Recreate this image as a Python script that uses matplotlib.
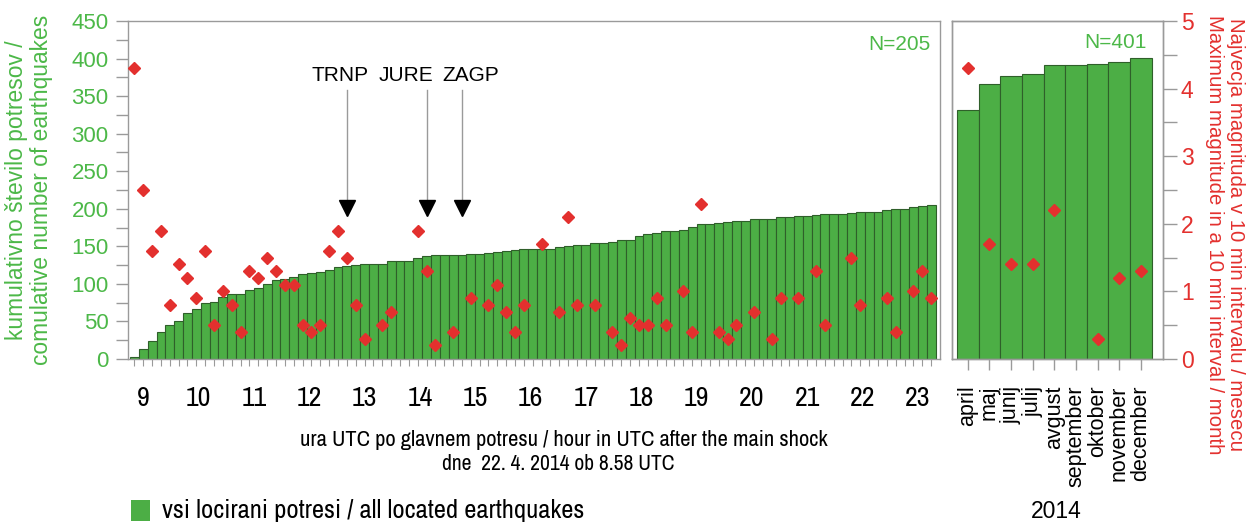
import matplotlib
matplotlib.use('Agg')
import matplotlib.pyplot as plt
import matplotlib.transforms as mtransforms
from matplotlib import font_manager
from matplotlib.patches import Rectangle
import numpy as np

nan = np.nan

# cumulative number of located earthquakes, 10 min intervals after 8.58 UTC
cum_count = [2, 13, 24, 36, 45, 50, 61, 67, 74, 76,
             83, 86, 87, 92, 95, 100, 105, 107, 109, 113,
             115, 116, 118, 122, 124, 125, 126, 126, 127, 130,
             130, 130, 135, 137, 138, 138, 139, 139, 140, 140,
             141, 142, 144, 145, 146, 146, 147, 147, 149, 151,
             152, 152, 154, 154, 156, 158, 159, 164, 166, 168,
             171, 171, 172, 176, 180, 180, 181, 182, 184, 184,
             186, 186, 187, 189, 189, 190, 190, 192, 193, 193,
             193, 195, 196, 196, 196, 199, 200, 200, 202, 204, 205]

# maximum magnitude in each 10 min interval (nan = no event)
max_mag = [4.3, 2.5, 1.6, 1.9, 0.8, 1.4, 1.2, 0.9, 1.6, 0.5,
           1.0, 0.8, 0.4, 1.3, 1.2, 1.5, 1.3, 1.1, 1.1, 0.5,
           0.4, 0.5, 1.6, 1.9, 1.5, 0.8, 0.3, nan, 0.5, 0.7,
           nan, nan, 1.9, 1.3, 0.2, nan, 0.4, nan, 0.9, nan,
           0.8, 1.1, 0.7, 0.4, 0.8, nan, 1.7, nan, 0.7, 2.1,
           0.8, nan, 0.8, nan, 0.4, 0.2, 0.6, 0.5, 0.5, 0.9,
           0.5, nan, 1.0, 0.4, 2.3, nan, 0.4, 0.3, 0.5, nan,
           0.7, nan, 0.3, 0.9, nan, 0.9, nan, 1.3, 0.5, nan,
           nan, 1.5, 0.8, nan, nan, 0.9, 0.4, nan, 1.0, 1.3, 0.9]

hours = list(range(9, 24))

# stations installed during the day (bar index)
stations = ['TRNP', 'JURE', 'ZAGP']
station_bar = [24, 33, 37]

months = ['april', 'maj', 'junij', 'julij', 'avgust', 'september',
          'oktober', 'november', 'december']
month_cum = [331, 366, 377, 380, 392, 392, 393, 395, 401]
month_mag = [4.3, 1.7, 1.4, 1.4, 2.2, nan, 0.3, 1.2, 1.3]


def narrow_font():
    # look for a condensed sans face, fall back to the regular one
    entries = font_manager.fontManager.ttflist
    for f in entries:
        if 'Narrow' in f.name:
            return {'family': f.name}
    for f in entries:
        if 'Condensed' in f.name and 'Bold' not in f.name:
            return {'family': f.name}
    for f in entries:
        if str(f.stretch) in ('condensed', 'semi-condensed') and f.weight in (400, 'normal', 'regular'):
            return {'family': f.name, 'stretch': f.stretch}
    return {'family': 'Liberation Sans'}


nfont = narrow_font()
plt.rcParams['font.family'] = ['Liberation Sans', 'DejaVu Sans']

green = '#4cae45'
edge = '#2f5f2a'
green_txt = '#4cb848'
red = '#e3302e'
gray = '#9a9a9a'

W, H = 1257, 524
fig = plt.figure(figsize=(W / 100, H / 100), dpi=100)

# ---- left panel: first day ----
ax = fig.add_axes([128 / W, (H - 359) / H, 812 / W, 338 / H])
x = np.arange(len(cum_count))
ax.bar(x, cum_count, width=1.0, color=green, edgecolor=edge, linewidth=0.8, zorder=2)
ax.set_xlim(-0.72, 91.0)
ax.set_ylim(0, 450)
ax.set_yticks(range(0, 451, 50))
ax.set_yticks(range(25, 450, 50), minor=True)
ax.tick_params(axis='y', which='both', direction='out', length=9, width=1,
               color=gray, labelcolor=green_txt, labelsize=16, pad=5)
ax.set_xticks(x)
ax.set_xticklabels([])
ax.tick_params(axis='x', direction='out', length=5, width=0.8, color=gray)
for s in ax.spines.values():
    s.set_color(gray)
    s.set_linewidth(1)

trans = mtransforms.blended_transform_factory(ax.transData, ax.transAxes)
for h in hours:
    ax.text(1.0 + 6.25 * (h - 9), -0.117, str(h), transform=trans,
            ha='center', va='center', fontsize=20, **nfont)

ax.text(0.988, 0.93, 'N=205', transform=ax.transAxes, ha='right', va='center',
        fontsize=15, color=green_txt)

# station arrows
text_dx = [-7, -21, 9]
for name, b, dx in zip(stations, station_bar, text_dx):
    ax.plot([b, b], [192, 358], color=gray, lw=1, zorder=3)
    ax.plot([b], [201], marker='v', color='black', markersize=11, zorder=4)
    ax.annotate(name, (b, 378), xytext=(dx, 0), textcoords='offset pixels',
                ha='center', va='center', fontsize=15, color='black')

ax2 = ax.twinx()
ax2.set_ylim(0, 5)
ax2.plot(x, max_mag, 'D', color=red, markersize=6.5, zorder=5)
ax2.set_yticks([])
for s in ax2.spines.values():
    s.set_visible(False)

# ---- right panel: months of 2014 ----
axr = fig.add_axes([951.7 / W, (H - 359) / H, 211 / W, 338 / H])
xm = np.arange(len(months))
axr.bar(xm, month_cum, width=1.0, color=green, edgecolor=edge, linewidth=0.8)
axr.set_xlim(-0.745, 9.01)
axr.set_ylim(0, 450)
axr.set_yticks([])
axr.set_xticks(xm)
axr.set_xticklabels(months, rotation=90, va='top', ha='center', fontsize=15.5)
axr.tick_params(axis='x', direction='out', length=8, width=1, color=gray, pad=11)
for s in axr.spines.values():
    s.set_color(gray)
    s.set_linewidth(1)
axr.text(0.926, 0.935, 'N=401', transform=axr.transAxes, ha='right', va='center',
         fontsize=15, color=green_txt)

axr2 = axr.twinx()
axr2.set_ylim(0, 5)
axr2.plot(xm, month_mag, 'D', color=red, markersize=6.5)
axr2.set_yticks(range(0, 6))
axr2.set_yticks(np.arange(0.5, 5, 1.0), minor=True)
axr2.tick_params(axis='y', which='both', direction='out', length=10, width=1,
                 color=gray, labelcolor=red, labelsize=16.5, pad=3)
for s in axr2.spines.values():
    s.set_color(gray)
    s.set_linewidth(1)

# ---- labels ----
ylab_l = fig.text(29 / W, 1 - 190 / H,
                  'kumulativno število potresov /\ncomulative number of earthquakes',
                  rotation=90, ha='center', va='center', fontsize=15, color=green_txt,
                  linespacing=1.15)
ylab_r = fig.text(1225 / W, 1 - 235 / H,
                  'Najvecja magnituda v 10 min intervalu / mesecu\n'
                  'Maximum magnitude in a 10 min interval / month',
                  rotation=270, ha='center', va='center', fontsize=14.5, color=red,
                  linespacing=1.15)
xlab1 = fig.text(564 / W, 1 - 440 / H,
                 'ura UTC po glavnem potresu / hour in UTC after the main shock',
                 ha='center', va='center', fontsize=16, **nfont)
xlab2 = fig.text(558 / W, 1 - 464 / H, 'dne  22. 4. 2014 ob 8.58 UTC',
                 ha='center', va='center', fontsize=16, **nfont)

fig.patches.append(Rectangle((131 / W, 1 - 521 / H), 19 / W, 21 / H,
                             transform=fig.transFigure, facecolor=green,
                             edgecolor='none'))
leg = fig.text(162 / W, 1 - 511 / H, 'vsi locirani potresi / all located earthquakes',
               ha='left', va='center', fontsize=16, **nfont)
fig.text(1056 / W, 1 - 511 / H, '2014', ha='center', va='center', fontsize=16.5)

# scale the long labels so they span the same length as on the printed chart
renderer = fig.canvas.get_renderer()
for t, target, horiz in [(xlab1, 528, True), (xlab2, 233, True), (leg, 423, True),
                         (ylab_l, 350, False), (ylab_r, 440, False)]:
    bb = t.get_window_extent(renderer)
    size = bb.width if horiz else bb.height
    t.set_fontsize(t.get_fontsize() * target / size)

fig.savefig('out.png', dpi=100)
